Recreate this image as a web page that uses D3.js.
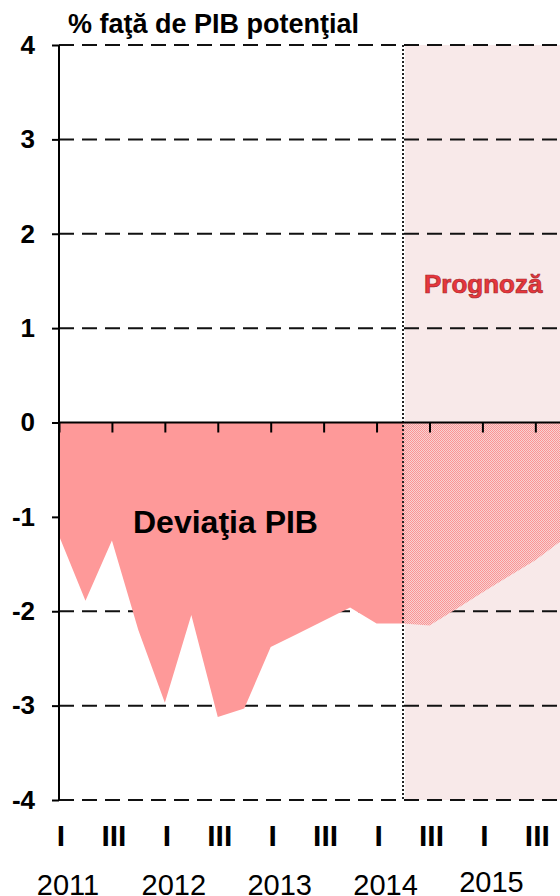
<!DOCTYPE html>
<html>
<head>
<meta charset="utf-8">
<script src="https://cdn.jsdelivr.net/npm/d3@7"></script>
<style>
  body { margin: 0; background: #fff; }
  svg { display: block; font-family: "Liberation Sans", Arial, sans-serif; }
</style>
</head>
<body>
<div id="chart"></div>
<script>
// data (quarterly output gap, % of potential GDP)
const years = ["2011", "2012", "2013", "2014", "2015"];
const quarterNames = ["I", "II", "III", "IV"];
const gapActual = [-1.2, -1.89, -1.25, -2.2, -2.97, -2.04, -3.12, -3.03, -2.38, -2.24, -2.1, -1.96, -2.13, -2.13];
const gapForecast = [-2.13, -2.15, -1.98, -1.8, -1.63, -1.46, -1.25];
const yTicks = [-4, -3, -2, -1, 0, 1, 2, 3, 4];

const quarters = years.flatMap(y => quarterNames.map(q => y + " " + q));
const firstForecast = gapActual.length - 1;

const W = 560, H = 896;
const svg = d3.select("#chart").append("svg")
  .attr("width", W)
  .attr("height", H);

const x = d3.scalePoint().domain(quarters).range([59, 561.8]);
const y = d3.scaleLinear().domain([-4, 4]).range([800, 45]);

// hatch for forecast area
const defs = svg.append("defs");
const pat = defs.append("pattern")
  .attr("id", "hatch")
  .attr("width", 2).attr("height", 2)
  .attr("patternUnits", "userSpaceOnUse");
pat.append("rect").attr("width", 2).attr("height", 2).attr("fill", "#f7d2d2");
pat.append("rect").attr("width", 1).attr("height", 1).attr("fill", "#fb9494");
pat.append("rect").attr("x", 1).attr("y", 1).attr("width", 1).attr("height", 1).attr("fill", "#fb9494");

// forecast background
const xSplit = x(quarters[firstForecast]);
svg.append("rect")
  .attr("x", xSplit + 2)
  .attr("y", y(4))
  .attr("width", W - xSplit - 2)
  .attr("height", y(-4) - y(4))
  .attr("fill", "#f8e9e9");

// dashed grid
svg.append("g")
  .selectAll("line")
  .data(yTicks.filter(d => d !== 0))
  .join("line")
    .attr("x1", 59).attr("x2", W)
    .attr("y1", d => y(d)).attr("y2", d => y(d))
    .attr("stroke", "#111")
    .attr("stroke-width", 2)
    .attr("stroke-dasharray", "15,8");

// areas
const area = d3.area()
  .x(d => x(d.q))
  .y0(y(0))
  .y1(d => y(d.v));

const actual = gapActual.map((v, i) => ({q: quarters[i], v: v}));
const forecast = gapForecast.map((v, i) => ({q: quarters[firstForecast + i], v: v}));

svg.append("path").datum(actual).attr("d", area).attr("fill", "#fe9999");
svg.append("path").datum(forecast).attr("d", area).attr("fill", "url(#hatch)");

// dotted separator
svg.append("line")
  .attr("x1", xSplit).attr("x2", xSplit)
  .attr("y1", y(4)).attr("y2", y(-4))
  .attr("stroke", "#222")
  .attr("stroke-width", 2)
  .attr("stroke-dasharray", "2,2");

// zero line with quarter ticks
const xAxis = svg.append("g")
  .attr("transform", `translate(0,${y(0)})`)
  .call(d3.axisBottom(x)
    .tickValues(quarters.filter((d, i) => i % 2 === 0))
    .tickSize(10)
    .tickFormat(""));
xAxis.select(".domain").attr("d", `M59,0H${W}`).attr("stroke", "#000").attr("stroke-width", 2);
xAxis.selectAll(".tick line").attr("stroke", "#000").attr("stroke-width", 2);

// y axis
const yAxis = svg.append("g")
  .attr("transform", "translate(59,0)")
  .call(d3.axisLeft(y).tickValues(yTicks).tickSize(7).tickPadding(17).tickFormat(d3.format("d")));
yAxis.select(".domain").attr("d", `M0,${y(4)}V${y(-4)}`).attr("stroke", "#000").attr("stroke-width", 2);
yAxis.selectAll(".tick line").attr("stroke", "#000").attr("stroke-width", 2);
yAxis.selectAll(".tick text")
  .attr("font-family", "Liberation Sans, Arial, sans-serif")
  .attr("font-size", 26)
  .attr("font-weight", "bold")
  .attr("fill", "#000")
  .text(d => d < 0 ? "-" + Math.abs(d) : d);

// quarter labels
svg.append("g")
  .selectAll("text")
  .data(quarters.filter((d, i) => i % 2 === 0))
  .join("text")
    .attr("x", d => x(d) + 2)
    .attr("y", 846)
    .attr("text-anchor", "middle")
    .attr("font-size", 30)
    .attr("font-weight", "bold")
    .text(d => d.split(" ")[1]);

// year labels
svg.append("g")
  .selectAll("text")
  .data(years)
  .join("text")
    .attr("x", (d, i) => x(quarters[i * 4]) + 9)
    .attr("y", (d, i) => i === 4 ? 892 : 895)
    .attr("text-anchor", "middle")
    .attr("font-size", 29)
    .text(d => d);

// titles
svg.append("text")
  .attr("x", 68).attr("y", 33)
  .attr("font-size", 27)
  .attr("font-weight", "bold")
  .text("% faţă de PIB potenţial");

svg.append("text")
  .attr("x", 133).attr("y", 533)
  .attr("font-size", 32)
  .attr("font-weight", "bold")
  .text("Deviaţia PIB");

svg.append("text")
  .attr("x", 424).attr("y", 293)
  .attr("font-size", 26)
  .attr("font-weight", "bold")
  .attr("fill", "#e8363c")
  .attr("stroke", "#a42a2e")
  .attr("stroke-width", 0.7)
  .text("Prognoză");
</script>
</body>
</html>
